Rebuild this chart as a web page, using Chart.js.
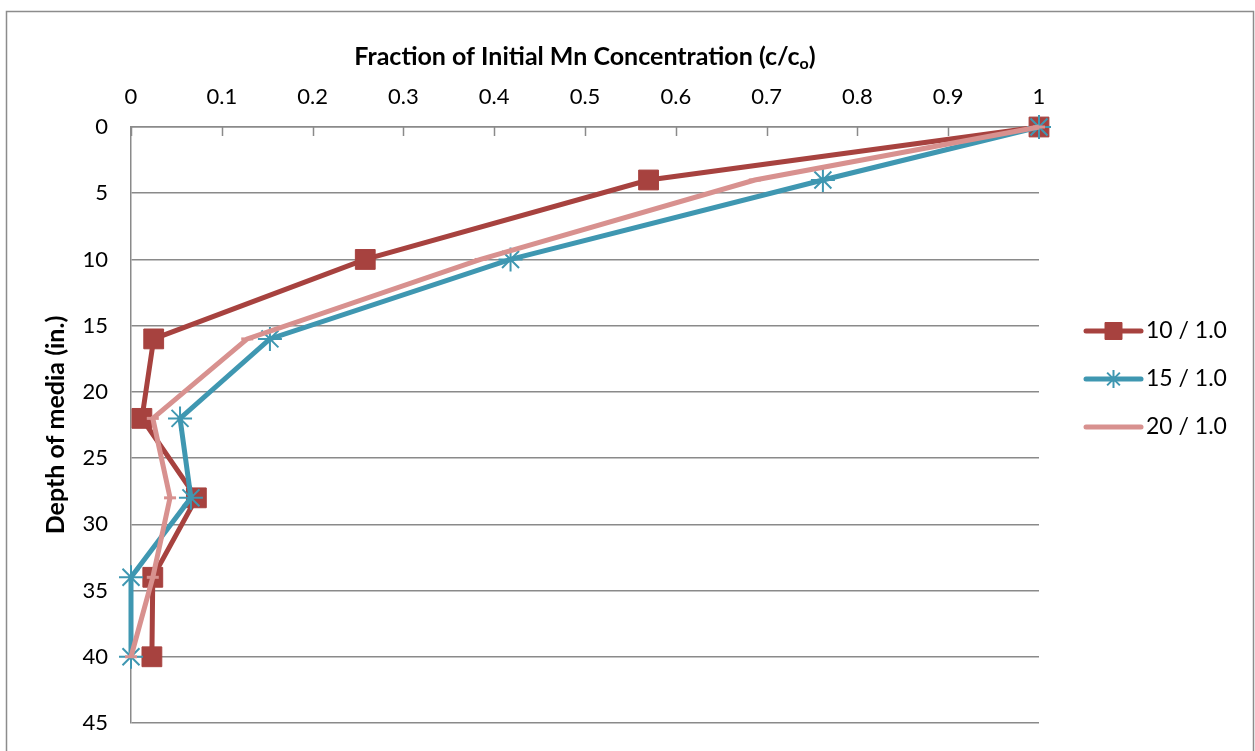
<!DOCTYPE html>
<html>
<head>
<meta charset="utf-8">
<script src="https://cdn.jsdelivr.net/npm/chart.js@4.4.0/dist/chart.umd.min.js"></script>
<style>
  html, body { margin: 0; padding: 0; background: #fff; }
  #wrap { width: 1255px; height: 751px; }
</style>
</head>
<body>
<div id="wrap"><canvas id="depthChart" width="1255" height="751"></canvas></div>
<script>
// depth of media (in.) for each sample point
const depths = [0, 4, 10, 16, 22, 28, 34, 40];
const seriesLabels = ['10 / 1.0', '15 / 1.0', '20 / 1.0'];
// fraction of initial Mn concentration (c/co)
const fraction10 = [1, 0.57, 0.258, 0.025, 0.012, 0.072, 0.024, 0.023];
const fraction15 = [1, 0.762, 0.418, 0.153, 0.054, 0.066, 0, 0];
const fraction20 = [1, 0.687, 0.385, 0.128, 0.024, 0.043, 0.024, 0];
const xTicks = [0, 0.1, 0.2, 0.3, 0.4, 0.5, 0.6, 0.7, 0.8, 0.9, 1];
const yTicks = [0, 5, 10, 15, 20, 25, 30, 35, 40, 45];

const FONT = 'Lato, "Open Sans", sans-serif';
const gridColor = '#8a8a8a';
const red = '#A7423F';
const teal = '#3F97B1';
const pink = '#D8918F';

function toPoints(values) {
  return depths.map((d, i) => ({ x: values[i], y: d }));
}

// frame, inner ticks on the top axis, title with subscript, legend
const extras = {
  id: 'extras',
  beforeDraw(chart) {
    const ctx = chart.ctx;
    ctx.save();
    ctx.fillStyle = '#fff';
    ctx.fillRect(0, 0, chart.width, chart.height);
    ctx.strokeStyle = '#8c8c8c';
    ctx.lineWidth = 1.5;
    ctx.strokeRect(6.5, 11.5, chart.width - 8, chart.height + 20);
    ctx.restore();
  },
  beforeDatasetsDraw(chart) {
    const ctx = chart.ctx;
    const xs = chart.scales.x;
    const top = chart.chartArea.top;
    ctx.save();
    ctx.strokeStyle = gridColor;
    ctx.lineWidth = 1.5;
    xs.ticks.forEach(t => {
      const px = Math.round(xs.getPixelForValue(t.value)) + 0.5;
      ctx.beginPath();
      ctx.moveTo(px, top);
      ctx.lineTo(px, top + 9);
      ctx.stroke();
    });
    ctx.restore();
  },
  afterDraw(chart) {
    const ctx = chart.ctx;
    const area = chart.chartArea;
    ctx.save();
    // x axis title
    const main = 'Fraction of Initial Mn Concentration (c/c';
    const sub = 'o';
    const end = ')';
    const bigFont = 'bold 25px ' + FONT;
    const smallFont = 'bold 16px ' + FONT;
    ctx.font = bigFont;
    const w1 = ctx.measureText(main).width;
    const w3 = ctx.measureText(end).width;
    ctx.font = smallFont;
    const w2 = ctx.measureText(sub).width;
    let x = (area.left + area.right) / 2 - (w1 + w2 + w3) / 2;
    const ty = area.top - 70;
    ctx.fillStyle = '#000';
    ctx.textBaseline = 'middle';
    ctx.textAlign = 'left';
    ctx.font = bigFont;
    ctx.fillText(main, x, ty);
    ctx.font = smallFont;
    ctx.fillText(sub, x + w1, ty + 7);
    ctx.font = bigFont;
    ctx.fillText(end, x + w1 + w2, ty);

    // legend
    const lx = area.right + 47;
    const midY = (area.top + area.bottom) / 2;
    chart.data.datasets.forEach((ds, i) => {
      const y = midY - 94 + i * 48;
      ctx.strokeStyle = ds.borderColor;
      ctx.lineWidth = 5;
      ctx.lineCap = 'round';
      ctx.beginPath();
      ctx.moveTo(lx, y);
      ctx.lineTo(lx + 55, y);
      ctx.stroke();
      if (ds.legendMarker && Chart.helpers && Chart.helpers.drawPoint) {
        ctx.fillStyle = ds.pointBackgroundColor;
        ctx.strokeStyle = ds.pointBorderColor;
        ctx.lineWidth = ds.pointBorderWidth;
        ctx.lineCap = 'butt';
        Chart.helpers.drawPoint(ctx, {
          pointStyle: ds.pointStyle, radius: ds.legendMarker,
          rotation: 0, borderWidth: ds.pointBorderWidth
        }, lx + 27.5, y);
      }
      ctx.fillStyle = '#000';
      ctx.font = '23px ' + FONT;
      ctx.textBaseline = 'middle';
      ctx.fillText(ds.label, lx + 60, y);
    });
    ctx.restore();
  }
};

new Chart(document.getElementById('depthChart'), {
  type: 'scatter',
  data: {
    datasets: [
      {
        label: seriesLabels[0],
        data: toPoints(fraction10),
        showLine: true,
        borderColor: red,
        backgroundColor: red,
        borderWidth: 5,
        pointStyle: 'rect',
        pointRadius: 14,
        pointBackgroundColor: red,
        pointBorderColor: red,
        pointBorderWidth: 1,
        legendMarker: 12,
        clip: false,
        order: 3
      },
      {
        label: seriesLabels[1],
        data: toPoints(fraction15),
        showLine: true,
        borderColor: teal,
        backgroundColor: teal,
        borderWidth: 5,
        pointStyle: 'star',
        pointRadius: 12,
        pointBackgroundColor: teal,
        pointBorderColor: teal,
        pointBorderWidth: 2,
        legendMarker: 9,
        clip: false,
        order: 2
      },
      {
        label: seriesLabels[2],
        data: toPoints(fraction20),
        showLine: true,
        borderColor: pink,
        backgroundColor: pink,
        borderWidth: 5,
        pointStyle: 'line',
        pointRadius: 6,
        pointBackgroundColor: pink,
        pointBorderColor: pink,
        pointBorderWidth: 3,
        legendMarker: 0,
        clip: false,
        order: 1
      }
    ]
  },
  options: {
    responsive: false,
    animation: false,
    events: [],
    layout: { padding: { left: 0, top: 0, right: 216, bottom: 28 } },
    plugins: {
      legend: { display: false },
      tooltip: { enabled: false }
    },
    scales: {
      x: {
        type: 'linear',
        position: 'top',
        min: 0,
        max: 1,
        afterBuildTicks: s => { s.ticks = xTicks.map(v => ({ value: v })); },
        afterFit: s => { s.height = 127; },
        grid: { display: false, drawTicks: false },
        border: { display: true, color: gridColor, width: 1.5 },
        ticks: {
          color: '#000',
          padding: 17,
          font: { family: FONT, size: 22 },
          callback: v => String(v)
        },
        title: { display: false }
      },
      y: {
        type: 'linear',
        reverse: true,
        min: 0,
        max: 45,
        afterBuildTicks: s => { s.ticks = yTicks.map(v => ({ value: v })); },
        afterFit: s => { s.width = 131; s.paddingTop = 0; s.paddingBottom = 0; },
        grid: { color: gridColor, lineWidth: 1.5, drawTicks: false },
        border: { display: true, color: gridColor, width: 1.5 },
        ticks: {
          color: '#000',
          padding: 23,
          font: { family: FONT, size: 22 }
        },
        title: {
          display: true,
          text: 'Depth of media (in.)',
          color: '#000',
          font: { family: FONT, size: 25, weight: 'bold' },
          padding: { top: 41, bottom: 0 }
        }
      }
    }
  },
  plugins: [extras]
});
</script>
</body>
</html>
